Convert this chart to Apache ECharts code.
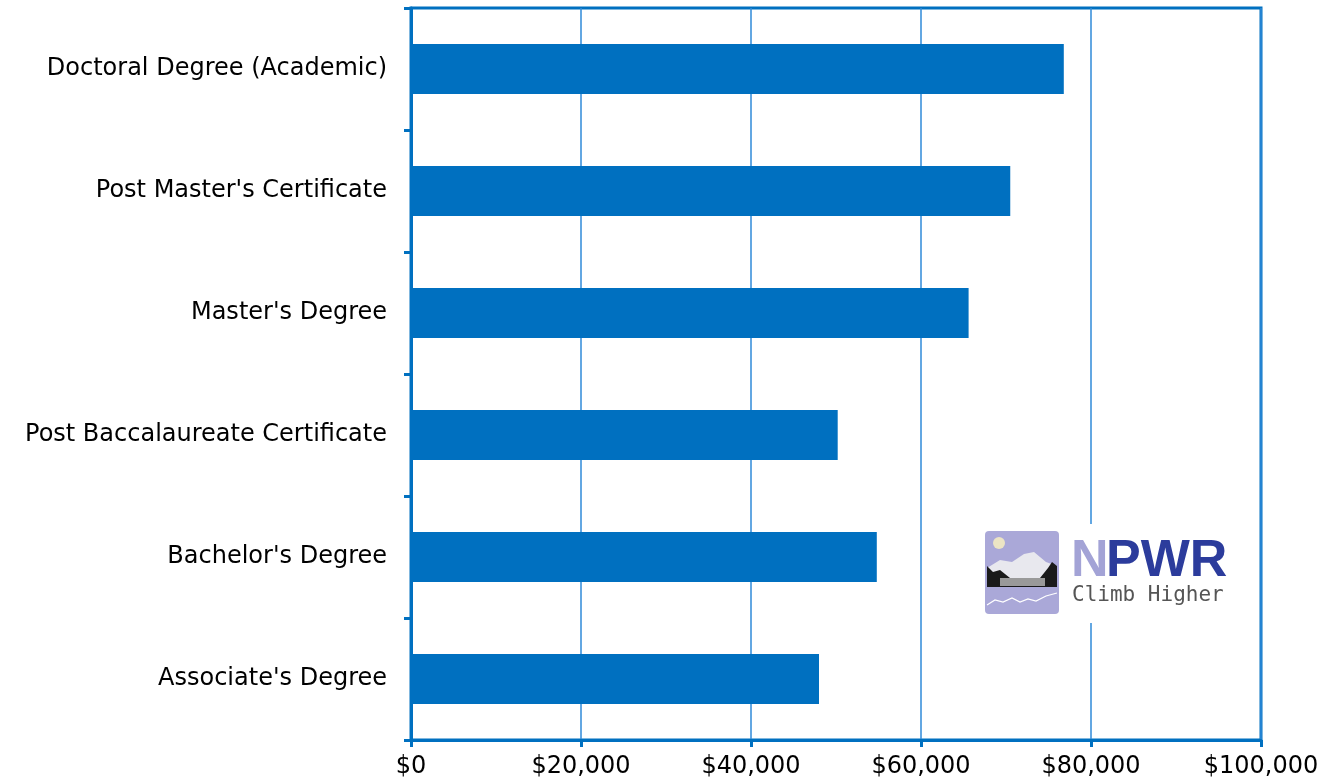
<!DOCTYPE html>
<html>
<head>
<meta charset="utf-8">
<script src="https://cdn.jsdelivr.net/npm/echarts@6/dist/echarts.min.js"></script>
<style>
  html, body { margin: 0; padding: 0; background: #fff; }
  #chart { width: 1326px; height: 781px; }
</style>
</head>
<body>
<div id="chart"></div>
<script>
// degrees, bottom to top as drawn on the category axis
const degrees = [
  "Associate's Degree",
  "Bachelor's Degree",
  'Post Baccalaureate Certificate',
  "Master's Degree",
  "Post Master's Certificate",
  'Doctoral Degree (Academic)'
];
const salaries = [48000, 54800, 50200, 65600, 70500, 76800];
const xTicks = [0, 20000, 40000, 60000, 80000, 100000];

const blue = '#0070c0';
const labelFont = 'DejaVu Sans, sans-serif';
const chart = echarts.init(document.getElementById('chart'));

const fmt = v => '$' + v.toLocaleString('en-US');

chart.setOption({
  animation: false,
  grid: {
    left: 411, right: 65, top: 8, bottom: 41,
    show: true, borderColor: blue, borderWidth: 3
  },
  xAxis: {
    type: 'value',
    min: xTicks[0],
    max: xTicks[xTicks.length - 1],
    interval: xTicks[1] - xTicks[0],
    axisLine: { show: true, lineStyle: { color: blue, width: 3 } },
    axisTick: { show: true, length: 7, lineStyle: { color: blue, width: 3 } },
    splitLine: { show: true, lineStyle: { color: '#2f8ad8', width: 1.5 } },
    axisLabel: {
      formatter: fmt, color: '#000', fontSize: 24,
      fontFamily: labelFont, margin: 15
    }
  },
  yAxis: {
    type: 'category',
    data: degrees,
    axisLine: { show: true, lineStyle: { color: blue, width: 3 } },
    axisTick: { show: true, length: 7, lineStyle: { color: blue, width: 3 } },
    axisLabel: {
      color: '#000', fontSize: 24,
      fontFamily: labelFont, margin: 24
    }
  },
  series: [{
    type: 'bar',
    data: salaries,
    barWidth: 50,
    itemStyle: { color: blue }
  }],
  graphic: [
    // NPWR logo (decoration)
    { type: 'rect', shape: { x: 975, y: 524, width: 256, height: 99 }, style: { fill: '#fff' }, z: 100 },
    { type: 'rect', shape: { x: 985, y: 531, width: 74, height: 83, r: 4 }, style: { fill: '#aaa8d8' }, z: 101 },
    { type: 'circle', shape: { cx: 999, cy: 543, r: 6 }, style: { fill: '#ece4c4' }, z: 102 },
    { type: 'polygon', shape: { points: [[987, 568], [1000, 560], [1012, 562], [1024, 554], [1034, 552], [1046, 562], [1057, 566], [1057, 580], [987, 580]] }, style: { fill: '#e8e8ee' }, z: 102 },
    { type: 'polygon', shape: { points: [[987, 566], [993, 572], [1000, 570], [1010, 578], [1040, 578], [1048, 568], [1052, 562], [1057, 566], [1057, 587], [987, 587]] }, style: { fill: '#1a1a1a' }, z: 103 },
    { type: 'rect', shape: { x: 1000, y: 578, width: 45, height: 8 }, style: { fill: '#999' }, z: 104 },
    { type: 'polyline', shape: { points: [[987, 605], [995, 600], [1003, 602], [1012, 598], [1020, 602], [1028, 599], [1036, 601], [1046, 596], [1057, 593]] }, style: { stroke: '#fff', lineWidth: 1.2, fill: null }, z: 104 },
    { type: 'text', x: 1071, y: 536, style: { text: 'N', fontSize: 52, fontWeight: 900, fontFamily: 'Liberation Sans, sans-serif', fill: '#a3a3d6' }, z: 101 },
    { type: 'text', x: 1106, y: 536, style: { text: 'PWR', fontSize: 52, fontWeight: 900, fontFamily: 'Liberation Sans, sans-serif', fill: '#2c3c9c' }, z: 101 },
    { type: 'text', x: 1072, y: 585, style: { text: 'Climb Higher', fontSize: 21, fontFamily: 'DejaVu Sans Mono, monospace', fill: '#555' }, z: 101 }
  ]
});
</script>
</body>
</html>
